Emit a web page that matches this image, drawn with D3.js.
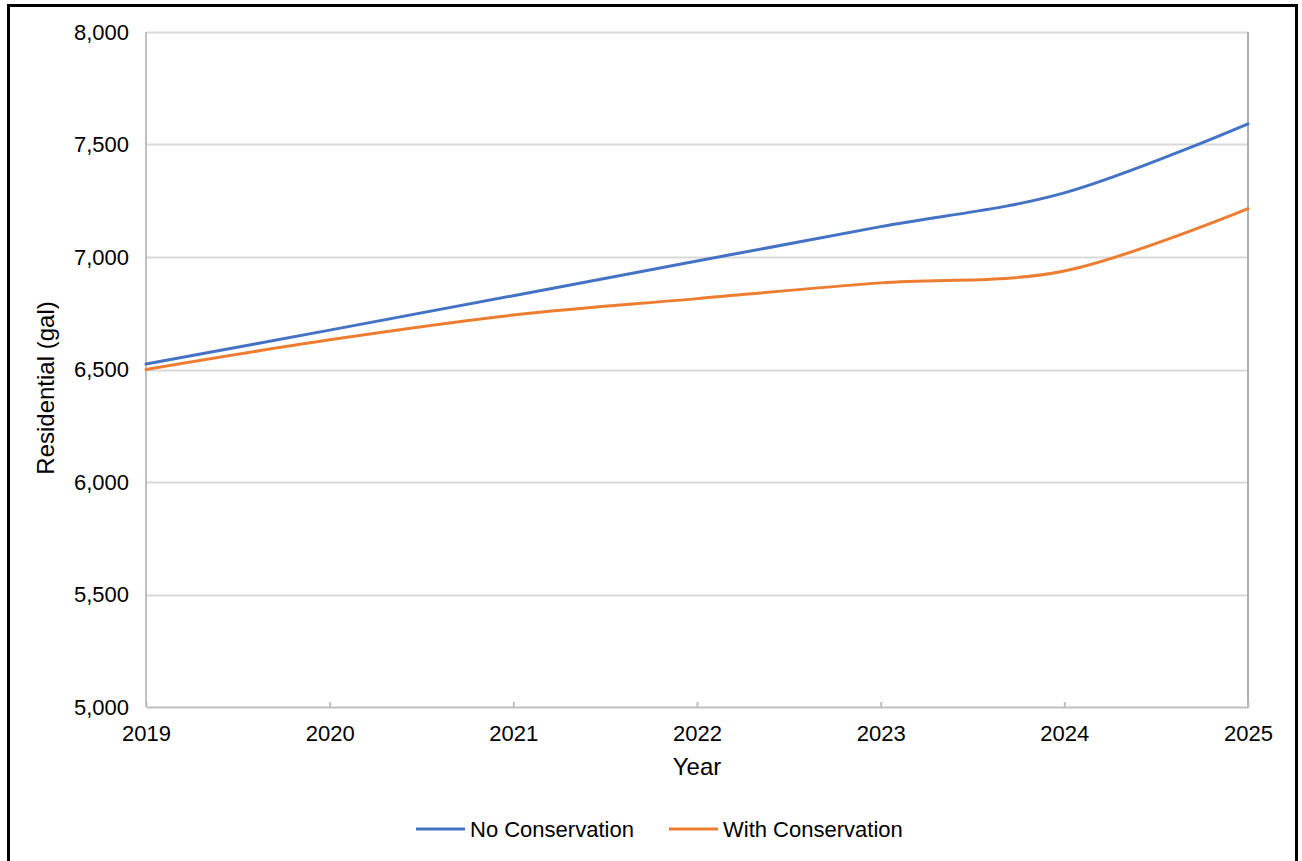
<!DOCTYPE html>
<html>
<head>
<meta charset="utf-8">
<script src="https://cdn.jsdelivr.net/npm/d3@7"></script>
<style>
  body { margin: 0; background: #fff; }
  text { font-family: "Liberation Sans", Arial, sans-serif; fill: #000; }
</style>
</head>
<body>
<div id="chart"></div>
<script>
// values
const years = [2019, 2020, 2021, 2022, 2023, 2024, 2025];
const noConservation = [6524, 6675, 6828, 6982, 7135, 7285, 7592];
const withConservation = [6500, 6632, 6742, 6815, 6885, 6938, 7215];
const yTicks = [5000, 5500, 6000, 6500, 7000, 7500, 8000];
const seriesNames = ["No Conservation", "With Conservation"];
const seriesColors = ["#4472C4", "#ED7D31"];

const width = 1302, height = 861;
const margin = {top: 32, right: 54, bottom: 154, left: 146};

const svg = d3.select("#chart")
  .append("svg")
    .attr("width", width)
    .attr("height", height);

// outer frame
svg.append("rect")
  .attr("x", 8.5).attr("y", 5.5)
  .attr("width", 1288).attr("height", 880)
  .attr("fill", "none")
  .attr("stroke", "#000")
  .attr("stroke-width", 3);

const x = d3.scaleLinear()
  .domain([2019, 2025])
  .range([margin.left, width - margin.right]);

const y = d3.scaleLinear()
  .domain([5000, 8000])
  .range([height - margin.bottom, margin.top]);

// gridlines
svg.append("g")
  .selectAll("line")
  .data(yTicks.filter(d => d > 5000))
  .join("line")
    .attr("x1", x(2019)).attr("x2", x(2025))
    .attr("y1", d => Math.round(y(d)) + 0.5)
    .attr("y2", d => Math.round(y(d)) + 0.5)
    .attr("stroke", "#d9d9d9")
    .attr("stroke-width", 2);

// plot border: left, right, bottom
const axisColor = "#bfbfbf";
svg.append("line")
  .attr("x1", x(2019)).attr("x2", x(2019))
  .attr("y1", y(8000)).attr("y2", y(5000))
  .attr("stroke", axisColor).attr("stroke-width", 2);
svg.append("line")
  .attr("x1", x(2025)).attr("x2", x(2025))
  .attr("y1", y(8000)).attr("y2", y(5000) + 1)
  .attr("stroke", "#b0b0b0").attr("stroke-width", 2);

// x axis
const xAxis = svg.append("g")
  .attr("transform", `translate(0,${y(5000)})`)
  .call(d3.axisBottom(x).tickValues(years).tickFormat(d3.format("d")).tickSizeInner(-5).tickSizeOuter(0).tickPadding(18));
xAxis.select(".domain").attr("stroke", axisColor).attr("stroke-width", 2);
xAxis.selectAll(".tick line").attr("stroke", axisColor).attr("stroke-width", 2);
xAxis.selectAll("text").style("font-size", "22px").attr("fill", "#000");

// y axis labels
const yAxis = svg.append("g")
  .attr("transform", `translate(${x(2019)},0)`)
  .call(d3.axisLeft(y).tickValues(yTicks).tickFormat(d3.format(",")).tickSize(0).tickPadding(17));
yAxis.select(".domain").remove();
yAxis.selectAll("text").style("font-size", "22px").attr("fill", "#000");

// axis titles
svg.append("text")
  .attr("x", (x(2019) + x(2025)) / 2)
  .attr("y", 775)
  .attr("text-anchor", "middle")
  .style("font-size", "24px")
  .text("Year");

svg.append("text")
  .attr("transform", "translate(54,388) rotate(-90)")
  .attr("text-anchor", "middle")
  .style("font-size", "24px")
  .text("Residential (gal)");

// lines
const line = d3.line()
  .x((d, i) => x(years[i]))
  .y(d => y(d))
  .curve(d3.curveCardinal.tension(0));

[noConservation, withConservation].forEach(function(values, i) {
  svg.append("path")
    .datum(values)
    .attr("d", line)
    .attr("fill", "none")
    .attr("stroke", seriesColors[i])
    .attr("stroke-width", 3)
    .attr("stroke-linecap", "round");
});

// legend
const legendX = [416, 669];
const legend = svg.append("g");
seriesNames.forEach(function(name, i) {
  legend.append("line")
    .attr("x1", legendX[i]).attr("x2", legendX[i] + 49)
    .attr("y1", 829).attr("y2", 829)
    .attr("stroke", seriesColors[i])
    .attr("stroke-width", 3);
  legend.append("text")
    .attr("x", legendX[i] + 54)
    .attr("y", 837)
    .style("font-size", "22px")
    .text(name);
});
</script>
</body>
</html>
